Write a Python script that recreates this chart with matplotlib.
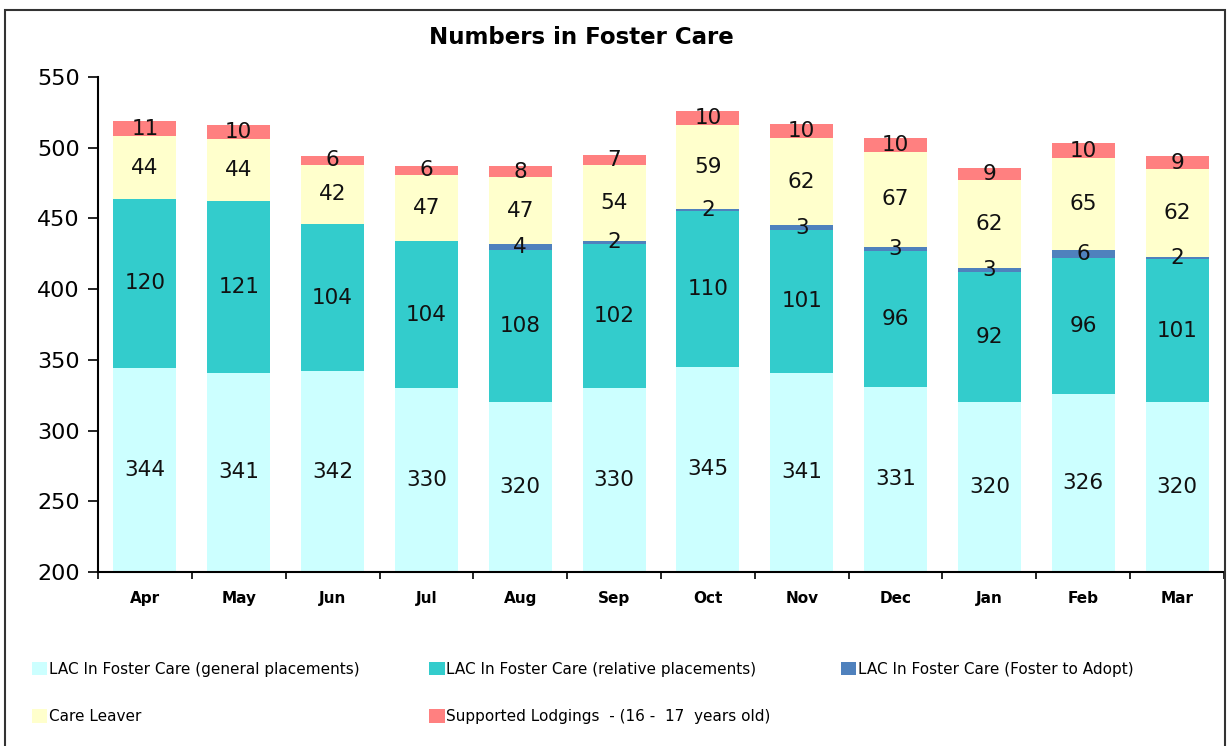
import matplotlib.pyplot as plt
import numpy as np
from matplotlib.patches import Rectangle, Patch

plt.rcParams['font.family'] = ['DejaVu Sans']

months = ['Apr', 'May', 'Jun', 'Jul', 'Aug', 'Sep', 'Oct', 'Nov', 'Dec', 'Jan', 'Feb', 'Mar']
general = [344, 341, 342, 330, 320, 330, 345, 341, 331, 320, 326, 320]
relative = [120, 121, 104, 104, 108, 102, 110, 101, 96, 92, 96, 101]
foster_adopt = [0, 0, 0, 0, 4, 2, 2, 3, 3, 3, 6, 2]
care_leaver = [44, 44, 42, 47, 47, 54, 59, 62, 67, 62, 65, 62]
lodgings = [11, 10, 6, 6, 8, 7, 10, 10, 10, 9, 10, 9]

series = [
    ('LAC In Foster Care (general placements)', general, '#CCFFFF'),
    ('LAC In Foster Care (relative placements)', relative, '#33CCCC'),
    ('LAC In Foster Care (Foster to Adopt)', foster_adopt, '#4F81BD'),
    ('Care Leaver', care_leaver, '#FFFFCC'),
    ('Supported Lodgings  - (16 -  17  years old)', lodgings, '#FF8080'),
]

YMIN, YMAX = 200, 550

fig = plt.figure(figsize=(12.29, 7.46), dpi=100)
ax = fig.add_axes([98 / 1229, 1 - 572 / 746, 1126 / 1229, 495 / 746])

x = np.arange(len(months))
bottom = np.zeros(len(months))
handles = []
for name, vals, color in series:
    vals = np.array(vals, dtype=float)
    ax.bar(x, vals, bottom=bottom, width=0.67, color=color, linewidth=0)
    for xi, b, v in zip(x, bottom, vals):
        if v > 0:
            # centre of the visible part of the segment
            ymid = (max(b, YMIN) + b + v) / 2
            ax.text(xi, ymid, f'{int(v)}', ha='center', va='center',
                    fontsize=15.5, color='#111111')
    bottom += vals
    handles.append(Patch(facecolor=color, edgecolor='none', label=name))

ax.set_ylim(YMIN, YMAX)
ax.set_xlim(-0.5, 11.5)
ax.set_yticks(range(YMIN, YMAX + 1, 50))
ax.tick_params(axis='y', labelsize=16, length=7, width=1.2, direction='out', pad=6)
ax.set_xticks(np.arange(-0.5, 12, 1))
ax.set_xticklabels([])
ax.tick_params(axis='x', which='major', length=5, width=1.2, direction='out')
ax.set_xticks(x, minor=True)
ax.set_xticklabels(months, minor=True, fontsize=11, fontweight='bold')
ax.tick_params(axis='x', which='minor', length=0, pad=14)
for s in ['top', 'right']:
    ax.spines[s].set_visible(False)
for s in ['left', 'bottom']:
    ax.spines[s].set_linewidth(1.5)

fig.text(581 / 1229, 1 - 38 / 746, 'Numbers in Foster Care', ha='center', va='center',
         fontsize=16.5, fontweight='bold')

order = [0, 3, 1, 4, 2]
fig.legend([handles[i] for i in order], [handles[i].get_label() for i in order],
           ncol=3, loc='upper left', bbox_to_anchor=(18 / 1229, 1 - 648 / 746),
           frameon=False, fontsize=11, handlelength=1.0, handleheight=1.0,
           handletextpad=0.1, columnspacing=4.6, labelspacing=2.1)

fig.patches.append(Rectangle((5 / 1229, -0.05), 1220 / 1229, 1.05 - 10 / 746,
                             transform=fig.transFigure, fill=False,
                             edgecolor='#333333', linewidth=1.5))

fig.savefig('out.png', dpi=100)
